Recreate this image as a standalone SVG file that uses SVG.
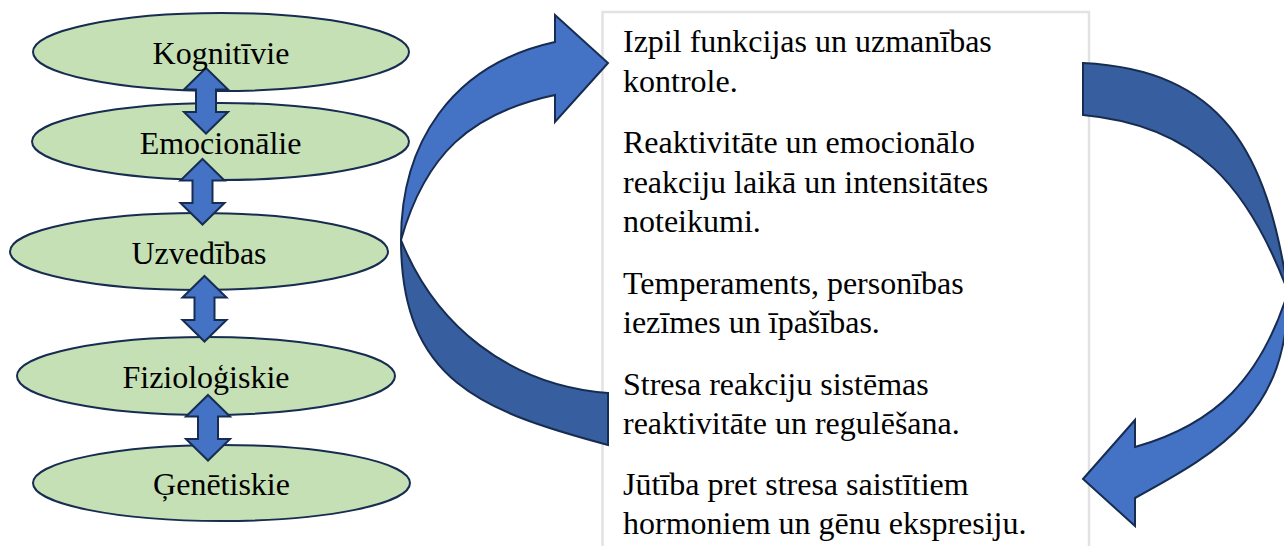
<svg xmlns="http://www.w3.org/2000/svg" width="1284" height="546" viewBox="0 0 1284 546">
<style>
.ell{fill:#C5E0B4;stroke:#172C51;stroke-width:2}
.lbl{font-size:32px;fill:#000;text-anchor:middle}
.txt{font-size:32px;fill:#000}
.arr{fill:#4472C4;stroke:#172C51;stroke-width:2;stroke-linejoin:miter}
.arrd{fill:#375E9E;stroke:#172C51;stroke-width:2;stroke-linejoin:miter}
.box{fill:#FFFFFF;stroke:#E2E2E2;stroke-width:2.5}
</style>
<defs>
<path id="dbl" d="M0,0 L22,21.5 L10,21.5 L10,44 L22,44 L0,65.5 L-22,44 L-10,44 L-10,21.5 L-22,21.5 Z"/>
</defs>
<rect width="1284" height="546" fill="#FFFFFF"/>
<g id="textbox" font-family="'Liberation Serif', 'DejaVu Serif', serif">
<rect class="box" x="602.5" y="12" width="486.5" height="560"/>
<text class="txt" x="623" y="52">Izpil funkcijas un uzmanības</text>
<text class="txt" x="623" y="92">kontrole.</text>
<text class="txt" x="623" y="153">Reaktivitāte un emocionālo</text>
<text class="txt" x="623" y="193">reakciju laikā un intensitātes</text>
<text class="txt" x="623" y="232">noteikumi.</text>
<text class="txt" x="623" y="294">Temperaments, personības</text>
<text class="txt" x="623" y="333">iezīmes un īpašības.</text>
<text class="txt" x="623" y="395">Stresa reakciju sistēmas</text>
<text class="txt" x="623" y="434">reaktivitāte un regulēšana.</text>
<text class="txt" x="623" y="495">Jūtība pret stresa saistītiem</text>
<text class="txt" x="623" y="534">hormoniem un gēnu ekspresiju.</text>
</g>
<g id="kognitivie"><ellipse class="ell" cx="221" cy="52" rx="188" ry="39"/></g>
<g id="emocionalie"><ellipse class="ell" cx="220.5" cy="141.5" rx="188.5" ry="38.5"/></g>
<g id="uzvedibas"><ellipse class="ell" cx="199" cy="251.5" rx="189" ry="38.5"/></g>
<g id="fiziologiskie"><ellipse class="ell" cx="206" cy="376" rx="189" ry="39"/></g>
<g id="genetiskie"><ellipse class="ell" cx="221.5" cy="483" rx="188.5" ry="38"/></g>
<g id="connectors">
<use href="#dbl" class="arr" x="206" y="68"/>
<use href="#dbl" class="arr" x="202.5" y="159"/>
<use href="#dbl" class="arr" x="204.5" y="276"/>
<use href="#dbl" class="arr" x="208" y="395"/>
<path class="arrd" d="M608,393 L608,445 C481.9,411.2 401,381 401,240 C435,325 508,385 608,393 Z"/>
<path class="arr" d="M401,240 C401,145 450,65 555,42 L555,15 L608,63 L555,122 L555,95 C470,113 425,155 401,240 Z"/>
<path class="arrd" d="M1083,63 C1223,70 1267,152 1288,292 C1249.5,188.6 1198,125.4 1083,115 Z"/>
<path class="arr" d="M1288,292 C1288,412 1223,450 1135,498 L1135,526 L1083,479 L1135,420 L1135,447 C1216.6,424 1261,377.5 1288,292 Z"/>
</g>
<g id="labels" font-family="'Liberation Serif', 'DejaVu Serif', serif">
<text class="lbl" x="221" y="64">Kognitīvie</text>
<text class="lbl" x="220.5" y="154">Emocionālie</text>
<text class="lbl" x="199" y="264">Uzvedības</text>
<text class="lbl" x="206" y="388">Fizioloģiskie</text>
<text class="lbl" x="221.5" y="495">Ģenētiskie</text>
</g>
</svg>
